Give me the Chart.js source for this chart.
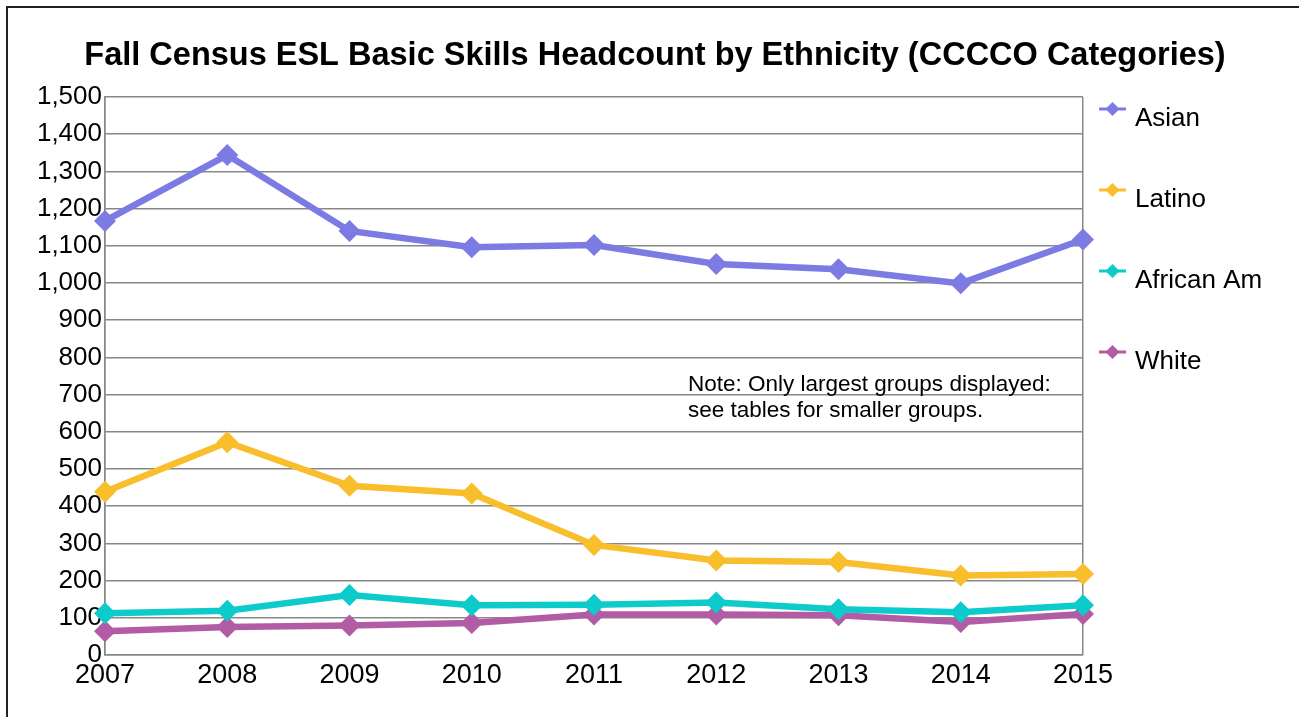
<!DOCTYPE html>
<html>
<head>
<meta charset="utf-8">
<title>Fall Census ESL Basic Skills Headcount</title>
<script src="https://cdn.jsdelivr.net/npm/chart.js"></script>
<style>
html, body { margin: 0; padding: 0; background: #fff; overflow: hidden; }
.wrap { position: relative; width: 1299px; height: 717px; }
.wrap canvas { position: absolute; left: 0; top: 0; }
/* outer frame of the pasted chart, only top and left edges visible */
.frame {
    position: absolute; left: 6px; top: 6px; width: 1400px; height: 800px;
    border-top: 2px solid #222; border-left: 2px solid #222;
    pointer-events: none;
}
</style>
</head>
<body>
<div class="wrap">
    <canvas id="myChart" width="1299" height="717"></canvas>
    <div class="frame"></div>
</div>

<script>
const years = ['2007', '2008', '2009', '2010', '2011', '2012', '2013', '2014', '2015'];
const asian = [1167, 1344, 1140, 1096, 1102, 1051, 1037, 999, 1117];
const latino = [439, 572, 455, 434, 296, 254, 250, 214, 218];
const africanAm = [112, 119, 161, 134, 135, 141, 123, 115, 134];
const white = [64, 75, 79, 86, 109, 109, 107, 89, 110];
const seriesNames = ['Asian', 'Latino', 'African Am', 'White'];
const seriesColors = ['#7b7be3', '#f8be2b', '#0ecbcb', '#b25ca5'];
const noteLines = ['Note: Only largest groups displayed:', 'see tables for smaller groups.'];

const FONT = '"Liberation Sans", Arial, sans-serif';

function makeSet(i, values) {
    return {
        label: seriesNames[i],
        data: values,
        borderColor: seriesColors[i],
        backgroundColor: seriesColors[i],
        borderWidth: 6.5,
        pointStyle: 'rectRot',
        pointRadius: 11,
        pointHoverRadius: 11,
        pointBorderWidth: 0,
        tension: 0,
        fill: false
    };
}

// legend + note drawn by hand (line with diamond, Excel style)
const sideLegend = {
    id: 'sideLegend',
    afterDraw(chart) {
        const ctx = chart.ctx;
        const area = chart.chartArea;
        ctx.save();
        chart.data.datasets.forEach(function(ds, i) {
            const x0 = area.right + 16;
            const y = 109 + i * 81;
            ctx.strokeStyle = ds.borderColor;
            ctx.lineWidth = 3;
            ctx.beginPath();
            ctx.moveTo(x0, y);
            ctx.lineTo(x0 + 27, y);
            ctx.stroke();
            ctx.fillStyle = ds.borderColor;
            ctx.beginPath();
            ctx.moveTo(x0 + 13.5, y - 7);
            ctx.lineTo(x0 + 20.5, y);
            ctx.lineTo(x0 + 13.5, y + 7);
            ctx.lineTo(x0 + 6.5, y);
            ctx.closePath();
            ctx.fill();
            ctx.fillStyle = '#000';
            ctx.font = '26px ' + FONT;
            ctx.textBaseline = 'alphabetic';
            ctx.textAlign = 'left';
            ctx.fillText(ds.label, x0 + 36, y + 17);
        });
        // note text
        ctx.fillStyle = '#000';
        ctx.font = '22.5px ' + FONT;
        ctx.textAlign = 'left';
        ctx.textBaseline = 'alphabetic';
        noteLines.forEach(function(t, k) {
            ctx.fillText(t, 688, 391 + k * 26);
        });
        ctx.restore();
    }
};

const config = {
    type: 'line',
    data: {
        labels: years,
        datasets: [
            makeSet(0, asian),
            makeSet(1, latino),
            makeSet(2, africanAm),
            makeSet(3, white)
        ]
    },
    options: {
        responsive: false,
        animation: false,
        layout: {
            padding: { left: 35, right: 24, top: 0, bottom: 22 }
        },
        plugins: {
            legend: { display: false },
            tooltip: { enabled: false },
            title: {
                display: true,
                text: 'Fall Census ESL Basic Skills Headcount by Ethnicity (CCCCO Categories)',
                color: '#000',
                font: { family: FONT, size: 32.5, weight: 'bold' },
                padding: { top: 37, bottom: 21 }
            }
        },
        scales: {
            x: {
                offset: false,
                grid: {
                    color: function(c) {
                        return (c.index === 0 || c.index === years.length - 1) ? '#888' : 'rgba(0,0,0,0)';
                    },
                    lineWidth: 1.5,
                    drawTicks: false
                },
                border: { color: '#888', width: 1.5 },
                ticks: {
                    color: '#000',
                    font: { family: FONT, size: 27 },
                    padding: 4,
                    maxRotation: 0,
                    autoSkip: false
                },
                afterFit: function(scale) { scale.height = 40; }
            },
            y: {
                min: 0,
                max: 1500,
                grid: { color: '#888', lineWidth: 1.5, drawTicks: false },
                border: { color: '#888', width: 1.5 },
                ticks: {
                    stepSize: 100,
                    color: '#000',
                    font: { family: FONT, size: 26 },
                    padding: 3,
                    callback: function(v) { return v.toLocaleString('en-US'); }
                },
                afterFit: function(scale) { scale.width = 70; }
            },
            // empty right axis, only reserves room for the legend column
            yLegend: {
                position: 'right',
                min: 0,
                max: 1500,
                grid: { display: false, drawOnChartArea: false },
                border: { display: false },
                ticks: { display: false },
                afterFit: function(scale) { scale.width = 192; }
            }
        }
    },
    plugins: [sideLegend]
};

var myChart = new Chart(document.getElementById('myChart'), config);
</script>
</body>
</html>
